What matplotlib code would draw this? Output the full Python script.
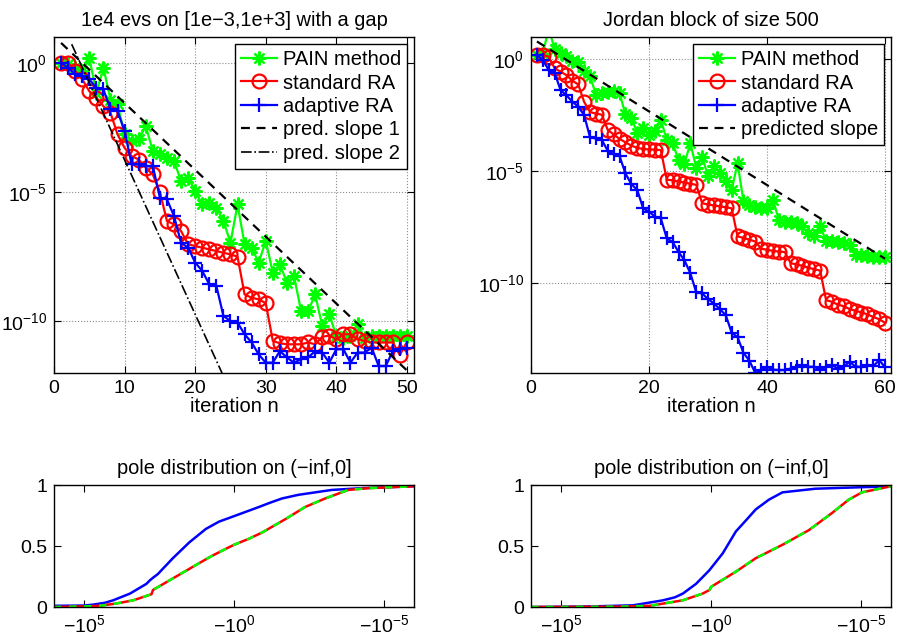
import numpy as np
import matplotlib
matplotlib.use('Agg')
import matplotlib.pyplot as plt
from matplotlib.ticker import NullLocator

plt.rcParams['font.family'] = 'Liberation Sans'
plt.rcParams['mathtext.fontset'] = 'custom'
plt.rcParams['mathtext.rm'] = 'Liberation Sans'
plt.rcParams['mathtext.it'] = 'Liberation Sans:italic'
plt.rcParams['font.size'] = 14

# ---- top left: 1e4 evs with a gap (log10 of error) ----
n_gap = np.arange(1, 51)
pain_gap_log = [0, -0.06, -0.19, -0.32, 0.19, -1.16, -0.19, -1.42, -1.61, -2.77,
                -3.03, -2.96, -2.45, -3.41, -3.54, -3.67, -3.8, -4.57, -4.45, -4.96,
                -5.48, -5.41, -5.61, -6.12, -6.96, -5.48, -7.02, -7.15, -7.73, -6.89,
                -8.12, -7.8, -8.5, -8.25, -9.6, -9.6, -8.96, -10.18, -9.73, -10.57,
                -10.63, -10.57, -10.12, -10.63, -10.57, -10.57, -10.57, -10.57, -10.57, -10.57]
std_gap_log = [0, 0, -0.32, -0.64, -1.1, -1.35, -1.68, -1.93, -2.77, -3.29,
               -3.61, -3.74, -4.06, -4.32, -5.0, -6.12, -6.25, -6.51, -7.02, -7.09,
               -7.15, -7.22, -7.28, -7.35, -7.41, -7.5, -8.96, -9.09, -9.15, -9.3,
               -10.76, -10.85, -10.89, -10.89, -10.89, -10.82, -10.89, -10.6, -10.55, -10.7,
               -10.5, -10.5, -10.7, -10.76, -10.82, -10.82, -10.82, -10.82, -11.3, -10.8]
ada_gap_log = [0, -0.19, -0.45, -0.52, -0.64, -0.97, -1.03, -1.8, -1.87, -2.64,
               -3.93, -3.93, -4.0, -4.0, -5.22, -5.28, -5.93, -6.96, -7.15, -7.73,
               -8.05, -8.57, -8.63, -9.79, -9.99, -10.05, -10.5, -10.82, -11.28, -11.6,
               -11.6, -11.15, -11.4, -11.6, -11.47, -11.4, -11.15, -11.21, -11.6, -11.08,
               -11.08, -11.6, -11.21, -11.21, -11.02, -11.73, -11.73, -11.15, -11.08, -11.02]
slope1_n = [1, 50]
slope1_log = [0.77, -11.9]
slope2_n = [2.5, 23.8]
slope2_log = [0.72, -12.0]

# ---- top right: Jordan block of size 500 ----
n_jor = np.arange(1, 61)
pain_jor_log = [0.18, 0.25, 1.4, 0.45, 0.3, 0.15, -0.07, -0.1, -0.5, -0.75,
                -1.57, -1.5, -1.47, -1.42, -1.5, -2.46, -2.61, -3.28, -3.06, -3.36,
                -3.21, -2.69, -3.6, -3.73, -4.5, -4.65, -3.73, -4.85, -4.35, -5.22,
                -4.78, -5.07, -5.45, -5.82, -4.63, -6.34, -6.49, -6.6, -6.64, -6.64,
                -6.27, -7.16, -7.24, -7.25, -7.31, -7.46, -7.76, -7.9, -7.46, -8.1,
                -8.12, -8.15, -8.21, -8.28, -8.73, -8.75, -8.78, -8.81, -8.8, -8.81]
std_jor_log = [0.2, 0.2, 0.12, -0.4, -0.55, -0.7, -0.95, -1.12, -1.9, -2.35,
               -2.42, -2.47, -3.15, -3.35, -3.55, -3.7, -3.85, -3.95, -4.0, -4.02,
               -4.03, -4.05, -5.37, -5.4, -5.45, -5.5, -5.55, -5.6, -6.42, -6.48,
               -6.52, -6.56, -6.6, -6.65, -7.9, -7.97, -8.05, -8.13, -8.45, -8.5,
               -8.55, -8.58, -8.6, -9.1, -9.15, -9.22, -9.3, -9.37, -9.43, -10.75,
               -10.82, -10.95, -11.02, -11.15, -11.22, -11.3, -11.38, -11.5, -11.6, -11.76]
ada_jor_log = [0.19, -0.03, -0.48, -0.6, -1.37, -1.6, -1.89, -2.11, -2.49, -3.48,
               -3.53, -3.6, -4.08, -4.23, -4.32, -5.09, -5.57, -5.83, -6.65, -6.8,
               -7.02, -7.1, -7.99, -8.15, -8.6, -8.97, -9.55, -10.4, -10.45, -10.7,
               -10.9, -11.15, -11.42, -12.2, -12.4, -13.1, -13.45, -14.0, -13.87, -13.72,
               -13.85, -13.87, -13.87, -13.8, -13.72, -13.65, -13.72, -13.72, -13.87, -13.72,
               -13.65, -13.8, -13.7, -13.5, -13.72, -13.72, -13.65, -13.7, -13.42, -13.75]
pred_n = [1, 60]
pred_log = [0.8, -8.9]

# ---- bottom: pole distributions, x = -log10|pole| ----
gap_ada_u = [-6, -5, -4.69, -4.3, -4.03, -3.47, -2.92, -2.8, -2.7, -2.54, -2.04, -1.49,
             -0.94, -0.5, 0.0, 0.83, 1.2, 1.6, 2.15, 3.26, 4.3, 4.92, 6]
gap_ada_f = [0.01, 0.012, 0.02, 0.035, 0.055, 0.11, 0.19, 0.22, 0.24, 0.27, 0.40, 0.53,
             0.64, 0.70, 0.745, 0.82, 0.855, 0.89, 0.92, 0.96, 0.975, 0.98, 0.99]
gap_std_u = [-6, -5, -4.47, -3.9, -3.36, -2.81, -2.75, -2.7, -1.93, -1.16, -0.73, -0.25,
             0.0, 0.5, 0.93, 1.71, 2.37, 3.04, 3.81, 4.5, 6]
gap_std_f = [0.0, 0.005, 0.01, 0.03, 0.055, 0.10, 0.105, 0.14, 0.25, 0.36, 0.42, 0.48,
             0.51, 0.56, 0.61, 0.72, 0.82, 0.89, 0.96, 0.975, 0.99]
jor_ada_u = [-6, -4, -2.6, -1.6, -1.2, -0.94, -0.5, -0.06, 0.39, 0.83, 1.2, 1.49,
             1.93, 2.38, 3.48, 6]
jor_ada_f = [0.0, 0.005, 0.014, 0.055, 0.08, 0.11, 0.19, 0.30, 0.44, 0.62, 0.72, 0.80,
             0.88, 0.94, 0.97, 0.99]
jor_std_u = [-6, -3, -2.04, -0.94, -0.28, -0.05, 0.0, 0.83, 1.49, 2.38, 3.26, 4.03,
             4.59, 5.03, 6]
jor_std_f = [0.0, 0.003, 0.01, 0.055, 0.11, 0.14, 0.165, 0.29, 0.40, 0.51, 0.63, 0.77,
             0.88, 0.94, 0.99]

fig = plt.figure(figsize=(8.99, 6.41), dpi=100)
ax1 = fig.add_axes([0.0601, 0.4181, 0.4004, 0.5242])
ax2 = fig.add_axes([0.5907, 0.4181, 0.4004, 0.5242])
ax3 = fig.add_axes([0.0601, 0.0530, 0.4004, 0.1903])
ax4 = fig.add_axes([0.5907, 0.0530, 0.4004, 0.1903])

mk = dict(markersize=10, markeredgewidth=1.6, linewidth=1.6)
title_size = 14.4


def top_plot(ax, n, pain, std, ada):
    # matlab style asterisk: 8 spokes
    ax.semilogy(n, 10.0 ** np.array(pain), '-', marker=(8, 2, 0), color=(0, 1, 0),
                label='PAIN method', **mk)
    ax.semilogy(n, 10.0 ** np.array(std), '-o', color='red', markerfacecolor='none',
                label='standard RA', **mk)
    ax.semilogy(n, 10.0 ** np.array(ada), '-+', color='blue', label='adaptive RA', **mk)


top_plot(ax1, n_gap, pain_gap_log, std_gap_log, ada_gap_log)
ax1.semilogy(slope1_n, 10.0 ** np.array(slope1_log), color='k', lw=1.6,
             dashes=(4, 3), label='pred. slope 1')
ax1.semilogy(slope2_n, 10.0 ** np.array(slope2_log), color='k', lw=1.2,
             linestyle='-.', label='pred. slope 2')
ax1.set_xlim(0, 51)
ax1.set_ylim(1e-12, 1e1)
ax1.set_xticks([0, 10, 20, 30, 40, 50])
ax1.set_title('1e4 evs on [1e\u22123,1e+3] with a gap', fontsize=title_size, pad=8)

top_plot(ax2, n_jor, pain_jor_log, std_jor_log, ada_jor_log)
ax2.semilogy(pred_n, 10.0 ** np.array(pred_log), color='k', lw=1.6,
             dashes=(4, 3), label='predicted slope')
ax2.set_xlim(0, 61)
ax2.set_ylim(1e-14, 1e1)
ax2.set_xticks([0, 20, 40, 60])
ax2.set_title('Jordan block of size 500', fontsize=title_size, pad=8)

for ax in (ax1, ax2):
    ax.set_yticks([1, 1e-5, 1e-10])
    ax.set_yticklabels([r'$10^{0}$', r'$10^{-5}$', r'$10^{-10}$'])
    ax.yaxis.set_minor_locator(NullLocator())
    ax.grid(True, linestyle=':', color='0.55', linewidth=0.8)
    ax.set_xlabel('iteration n', fontsize=14.5, labelpad=0)
    leg = ax.legend(loc='upper right', fontsize=14.5, fancybox=False, framealpha=1,
                    edgecolor='k', handlelength=1.75, handletextpad=0.3,
                    labelspacing=0.22, borderaxespad=0.35, borderpad=0.3)
    leg.get_frame().set_linewidth(1.0)

for ax, ua, fa, us, fs in ((ax3, gap_ada_u, gap_ada_f, gap_std_u, gap_std_f),
                           (ax4, jor_ada_u, jor_ada_f, jor_std_u, jor_std_f)):
    ax.plot(ua, fa, color='blue', lw=1.8)
    ax.plot(us, fs, color='red', lw=1.8)
    ax.plot(us, fs, color=(0, 1, 0), lw=1.8, dashes=(3, 3))
    ax.set_xlim(-6, 6)
    ax.set_ylim(0, 1)
    ax.set_xticks([-5, 0, 5])
    ax.set_xticklabels([r'$-10^{5}$', r'$-10^{0}$', r'$-10^{-5}$'])
    ax.set_yticks([0, 0.5, 1])
    ax.set_yticklabels(['0', '0.5', '1'])
    ax.set_title('pole distribution on (\u2212inf,0]', fontsize=title_size, pad=8)

for ax in (ax1, ax2, ax3, ax4):
    ax.tick_params(direction='in', top=True, right=True, length=5, width=0.8, pad=5)
    for s in ax.spines.values():
        s.set_linewidth(1.0)

fig.savefig('out.png', dpi=100)
